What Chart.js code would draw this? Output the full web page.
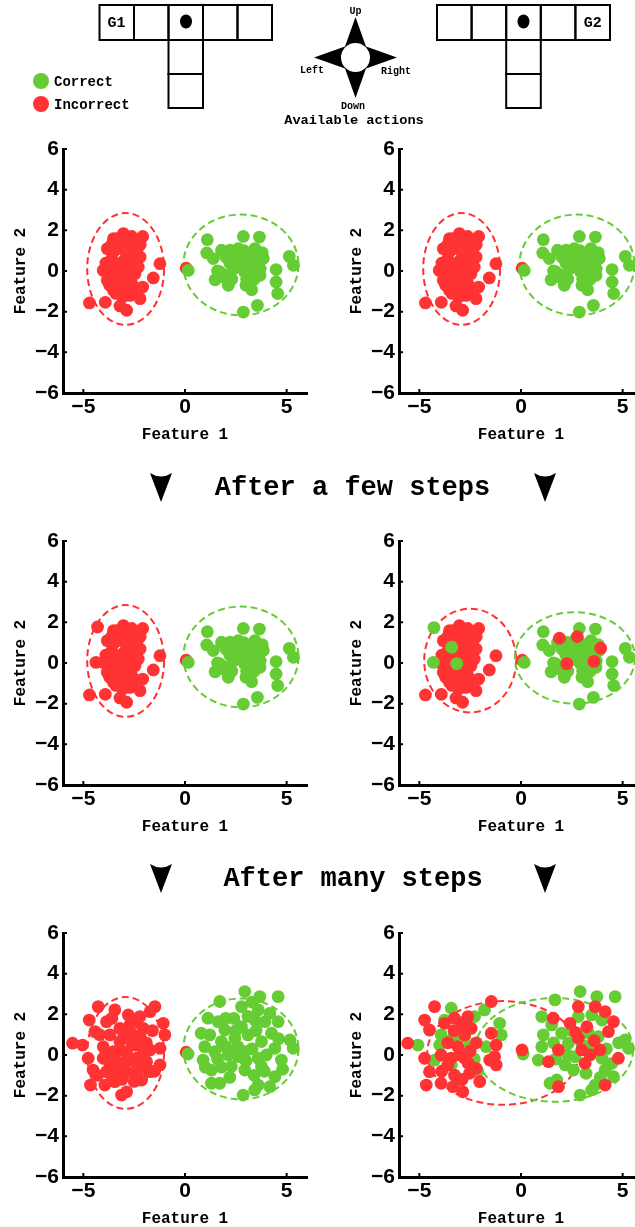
<!DOCTYPE html>
<html>
<head>
<meta charset="utf-8">
<script src="https://cdn.jsdelivr.net/npm/chart.js@4.4.1/dist/chart.umd.min.js"></script>
<style>
html, body { margin: 0; padding: 0; background: #fff; overflow: hidden; }
#page { position: relative; width: 635px; height: 1227px; overflow: hidden; }
#page canvas { position: absolute; width: 330px; height: 320px; }
#page svg { position: absolute; left: 0; top: 0; }
</style>
</head>
<body>
<div id="page">
<canvas id="c1" width="330" height="320" style="left:0px;top:130px"></canvas>
<canvas id="c2" width="330" height="320" style="left:336px;top:130px"></canvas>
<canvas id="c3" width="330" height="320" style="left:0px;top:522px"></canvas>
<canvas id="c4" width="330" height="320" style="left:336px;top:522px"></canvas>
<canvas id="c5" width="330" height="320" style="left:0px;top:914px"></canvas>
<canvas id="c6" width="330" height="320" style="left:336px;top:914px"></canvas>

<svg width="635" height="1227" font-family="Liberation Mono, monospace" font-weight="bold">
  <!-- G1 maze -->
  <g fill="none" stroke="#000" stroke-width="2">
    <rect x="99.5" y="5" width="34.5" height="35"/>
    <rect x="134" y="5" width="34.5" height="35"/>
    <rect x="168.5" y="5" width="34.5" height="35"/>
    <rect x="203" y="5" width="34.5" height="35"/>
    <rect x="237.5" y="5" width="34.5" height="35"/>
    <rect x="168.5" y="40" width="34.5" height="34"/>
    <rect x="168.5" y="74" width="34.5" height="34"/>
    <!-- G2 maze -->
    <rect x="437" y="5" width="34.6" height="35"/>
    <rect x="471.6" y="5" width="34.6" height="35"/>
    <rect x="506.2" y="5" width="34.6" height="35"/>
    <rect x="540.8" y="5" width="34.6" height="35"/>
    <rect x="575.4" y="5" width="34.6" height="35"/>
    <rect x="506.2" y="40" width="34.6" height="34"/>
    <rect x="506.2" y="74" width="34.6" height="34"/>
  </g>
  <ellipse cx="186" cy="21.5" rx="6" ry="7" fill="#000"/>
  <ellipse cx="523.5" cy="21.5" rx="6" ry="7" fill="#000"/>
  <text x="116.5" y="27" font-size="15" text-anchor="middle">G1</text>
  <text x="592.7" y="27" font-size="15" text-anchor="middle">G2</text>

  <!-- legend -->
  <circle cx="41" cy="81" r="8" fill="#66CC33"/>
  <circle cx="41" cy="104" r="8" fill="#FF3333"/>
  <text x="54" y="85.5" font-size="14">Correct</text>
  <text x="54" y="108.5" font-size="14">Incorrect</text>

  <!-- actions -->
  <path d="M355.5,17 L344.5,48 L366.5,48 Z" fill="#000"/>
  <path d="M355.5,98 L344.5,67 L366.5,67 Z" fill="#000"/>
  <path d="M314,57.5 L345,46.5 L345,68.5 Z" fill="#000"/>
  <path d="M397,57.5 L366,46.5 L366,68.5 Z" fill="#000"/>
  <circle cx="355.5" cy="57.5" r="14.5" fill="#fff"/>
  <text x="355.5" y="14" font-size="10" text-anchor="middle">Up</text>
  <text x="312" y="73" font-size="10" text-anchor="middle">Left</text>
  <text x="396" y="73.5" font-size="10" text-anchor="middle">Right</text>
  <text x="353" y="108.5" font-size="10" text-anchor="middle">Down</text>
  <text x="354" y="124" font-size="13.7" text-anchor="middle">Available actions</text>

  <!-- step captions -->
  <path d="M150,473 Q161,480 172,473 L161,502 Z" fill="#000"/>
  <path d="M534,473 Q545,480 556,473 L545,502 Z" fill="#000"/>
  <text x="352.5" y="495" font-size="27" text-anchor="middle">After a few steps</text>
  <path d="M150,864 Q161,871 172,864 L161,893 Z" fill="#000"/>
  <path d="M534,864 Q545,871 556,864 L545,893 Z" fill="#000"/>
  <text x="353" y="886" font-size="27" text-anchor="middle">After many steps</text>
</svg>
</div>

<script>
'use strict';
var RED = '#FF3333';
var GREEN = '#66CC33';

// tick labels
var xTickValues = [-5, 0, 5];
var yTickValues = [-6, -4, -2, 0, 2, 4, 6];

// start: both rows on top are the same points
var startRed = [[-4.70, -1.57], [-3.92, -1.54], [-3.20, -1.72], [-2.87, -1.93], [-3.07, -1.28], [-2.21, -1.36],
  [-2.08, -0.79], [-2.54, -0.95], [-1.56, -0.34], [-1.23, 0.36], [-2.08, 1.70], [-3.03, 1.84], [-2.62, 1.70],
  [-3.52, 1.59], [-3.82, 1.10], [-3.89, 0.39], [-4.02, 0.03], [-3.82, -0.46], [-3.52, -0.95], [-3.20, -0.62],
  [-2.46, -0.13], [-2.30, 1.18], [-2.21, 0.69], [-2.79, 0.52], [-3.36, 0.36], [-2.95, -0.30], [-3.44, 1.02],
  [-3.20, 1.34], [-2.71, 1.34], [-3.52, -0.13], [-2.62, -0.62], [-2.90, 0.90], [-3.00, 0.00], [-3.60, 0.60],
  [-2.50, 0.30], [-3.30, 1.60], [-2.40, 1.50], [-3.70, 0.20], [-3.30, -0.30], [-2.70, -0.30], [-2.30, 0.20],
  [-3.10, -0.90], [-2.70, -1.20], [-3.70, -0.70], [-2.50, 1.00], [-3.00, 0.50], [-3.40, -1.10], [-2.80, 1.60],
  [-2.20, 1.30], [-3.60, 1.30], [-3.10, -0.40], [0.06, 0.14]];
var startGreen = [[0.16, 0.03], [1.10, 1.54], [1.07, 0.89], [1.39, 0.61], [1.80, 1.02], [1.48, -0.43], [2.13, -0.70],
  [2.05, -0.21], [2.38, 0.11], [2.21, 1.02], [2.62, 1.10], [2.87, 1.70], [3.66, 1.67], [3.44, 1.10], [3.85, 0.61],
  [3.36, 0.52], [3.03, -0.38], [3.28, -0.92], [3.69, -0.21], [2.87, -2.02], [3.56, -1.69], [4.48, 0.07],
  [4.48, -0.54], [4.56, -1.11], [5.13, 0.72], [5.33, 0.28], [2.70, 0.52], [3.03, 0.36], [2.46, 0.61],
  [1.72, -0.05], [3.20, 0.03], [2.50, 0.90], [3.10, 0.80], [3.40, -0.40], [1.90, -0.30], [2.30, -0.40],
  [2.60, 0.20], [2.90, 0.00], [3.30, 0.20], [3.60, 0.30], [2.20, 0.40], [2.00, 0.70], [2.90, 1.00], [3.70, 0.10],
  [3.00, -0.70], [1.60, 0.00], [3.80, 0.90]];

// after a few steps
var fewLeftRedExtra = [[-4.30, 1.77], [-4.38, 0.03]];
var fewRightGreenMoved = [[-4.28, 1.74], [-4.31, 0.03], [-3.41, 0.78], [-3.16, -0.03]];
var fewRightRedMoved = [[1.89, 1.22], [2.77, 1.30], [3.92, 0.73], [2.25, -0.03], [3.59, 0.08]];

// after many steps
var manyLeftRed = [[-5.53, 0.58], [-5.04, 0.49], [-4.71, 1.72], [-4.27, 2.38], [-4.76, -0.16], [-4.52, -0.74],
  [-4.65, -1.48], [-4.43, 1.15], [-3.94, -1.48], [-3.45, -1.31], [-3.12, -1.97], [-2.87, -1.81], [-2.13, -1.23],
  [-1.48, 2.38], [-1.72, 2.13], [-1.07, 1.56], [-0.99, 0.99], [-1.23, 0.33], [-1.23, -0.49], [-1.72, 0.25],
  [-3.45, 2.22], [-2.79, 1.97], [-2.22, 1.89], [-3.86, 1.64], [-4.02, 0.41], [-3.69, 0.99], [-3.20, 1.31],
  [-2.55, 0.99], [-2.87, 0.16], [-3.37, -0.33], [-2.38, -0.16], [-3.69, -0.49], [-2.87, -0.82], [-2.22, -0.66],
  [-1.89, -0.33], [-4.02, -0.16], [-3.20, 0.66], [-2.46, 0.49], [-3.53, 0.16], [-3.04, -0.49], [-2.71, 1.48],
  [-2.05, 1.31], [-1.72, -0.82], [-3.61, -0.99], [-2.05, 0.16], [-3.86, -0.82], [-3.00, 1.00], [-2.60, 0.60],
  [-3.30, 0.20], [-2.90, -0.30], [-2.50, -0.30], [-3.10, -1.20], [-2.50, -1.30], [-2.20, 0.90], [-3.60, 1.80],
  [-2.40, 1.60], [-1.60, 1.20], [-1.50, -0.80], [-3.30, -0.70], [-4.20, 1.00], [-4.30, -1.00], [-2.00, -0.20],
  [-3.90, 0.00], [-2.60, -0.90], [-1.90, 0.60], [0.06, 0.14]];
var manyLeftGreen = [[0.15, 0.05], [2.94, 3.12], [3.68, 2.87], [4.58, 2.87], [1.71, 2.63], [2.78, 2.38], [3.60, 2.22],
  [4.17, 2.05], [1.13, 1.81], [1.63, 1.64], [3.43, 1.72], [4.58, 1.64], [2.78, 1.39], [1.22, 0.99], [4.25, 1.07],
  [5.16, 0.74], [5.32, 0.33], [0.97, 0.41], [1.79, 0.66], [2.45, 0.82], [3.10, 0.99], [3.76, 0.66], [4.42, 0.33],
  [0.89, -0.25], [1.46, 0.16], [2.12, 0.00], [2.94, 0.16], [3.60, -0.16], [4.74, -0.25], [2.28, -0.57],
  [2.94, -0.74], [3.76, -0.57], [4.42, -1.07], [1.30, -1.39], [1.71, -1.39], [3.60, -1.48], [4.17, -1.56],
  [2.86, -1.97], [3.43, -1.72], [0.80, 1.07], [1.96, 1.23], [3.93, 1.64], [2.61, -0.08], [1.30, -0.74],
  [2.30, 0.20], [2.60, 0.40], [3.30, 0.30], [3.00, -0.30], [2.00, 0.40], [1.60, -0.20], [1.80, -0.60],
  [3.40, -1.00], [3.90, -0.80], [4.00, 0.00], [4.60, 0.80], [2.40, 1.80], [3.10, 1.90], [2.20, -1.10],
  [4.80, -0.70], [1.00, -0.60], [3.30, 2.60], [2.00, 1.80], [3.50, 1.20], [2.50, 1.20]];
var manyRightRed = [[-5.57, 0.58], [-4.25, 2.38], [-4.74, 1.72], [-4.50, 1.23], [-4.74, -0.16], [-4.50, -0.82],
  [-4.66, -1.48], [-3.93, -1.39], [-3.35, -1.56], [-2.86, -1.81], [-1.46, 2.63], [-3.27, 1.81], [-2.61, 1.89],
  [-1.46, 1.07], [-1.22, 0.49], [-1.30, -0.08], [-1.22, -0.49], [-1.54, -0.25], [-2.20, -0.66], [-2.03, -1.31],
  [-2.53, -0.90], [-3.76, 1.56], [-3.93, 0.00], [-3.60, -0.49], [-3.10, 0.41], [-2.77, 0.99], [-3.27, -0.99],
  [-2.77, -0.16], [-3.43, -0.16], [-2.94, 1.39], [-2.45, 1.31], [-3.00, 0.00], [-2.50, 0.20], [-3.30, 1.20],
  [-2.20, 0.60], [-3.60, 0.60], [-2.60, -0.40], [-3.90, -0.80], [-2.90, -1.20], [-2.70, 1.70],
  [0.05, 0.25], [2.82, 2.38], [3.65, 2.38],
  [4.14, 2.13], [1.59, 1.81], [2.41, 1.56], [3.24, 1.39], [4.55, 1.64], [4.30, 1.15], [2.82, 0.82], [1.84, 0.25],
  [2.99, 0.25], [3.89, 0.25], [4.79, -0.16], [1.35, -0.33], [3.15, -0.41], [1.84, -1.56], [4.14, -1.48], [3.40, 0.00],
  [2.70, 1.10], [3.60, 0.70]];
var manyRightGreen = [[-5.07, 0.49], [-3.43, 2.30], [-1.79, 2.22], [-2.28, 1.89], [-1.05, 1.56], [-0.97, 0.99],
  [-3.93, 0.99], [-4.00, 0.49], [-3.35, 0.82], [-2.77, 0.90], [-1.71, 0.41], [-4.25, -0.25], [-2.12, -0.82],
  [-3.10, -1.48], [-2.53, 0.41], [-3.43, -0.49], [-3.76, 1.72], [-2.30, -0.20], [0.10, 0.05], [1.67, 2.71], [2.91, 3.12],
  [3.73, 2.87], [4.63, 2.87], [1.02, 1.89], [1.51, 1.48], [2.82, 1.89], [3.48, 1.97], [3.98, 1.72], [1.10, 0.99],
  [2.00, 1.07], [3.32, 1.07], [1.02, 0.41], [2.33, 0.58], [3.48, 0.49], [5.12, 0.74], [5.29, 0.33], [0.85, -0.25],
  [2.17, -0.49], [2.66, -0.08], [3.98, -0.16], [4.47, -0.41], [4.55, -1.07], [1.43, -1.39], [1.76, -1.23],
  [3.65, -1.48], [2.91, -1.97], [3.48, -1.72], [2.58, -0.74], [4.14, -0.74], [2.50, 1.20], [3.00, 0.50],
  [3.80, 0.90], [4.20, 0.30], [2.30, 0.00], [1.60, 0.60], [3.20, -0.90], [4.80, 0.60], [3.90, -1.10], [1.70, -0.20]];

// ellipses: [centre x, centre y, radius x, radius y]
var startRedEllipse = [-2.92, 0.1, 1.89, 2.75];
var startGreenEllipse = [2.75, 0.3, 2.83, 2.48];
var fewRedEllipse = [-2.5, 0.12, 2.26, 2.55];
var fewGreenEllipse = [2.65, 0.25, 2.95, 2.25];
var manyRedEllipse = [-0.88, 0.1, 3.73, 2.55];
var manyGreenEllipse = [1.63, 0.25, 3.88, 2.55];

function dots(points, color) {
    return {
        data: points,
        backgroundColor: color,
        borderWidth: 0,
        pointRadius: 6.4,
        pointHoverRadius: 6.4
    };
}

function shapesPlugin(ellipses) {
    return {
        id: 'shapes',
        beforeDatasetsDraw: function (chart) {
            var ctx = chart.ctx;
            var xs = chart.scales.x;
            var ys = chart.scales.y;
            ctx.save();
            ctx.lineWidth = 2;
            ctx.setLineDash([7, 4]);
            for (var i = 0; i < ellipses.length; i++) {
                var e = ellipses[i].shape;
                var cx = xs.getPixelForValue(e[0]);
                var cy = ys.getPixelForValue(e[1]);
                var rx = Math.abs(xs.getPixelForValue(e[0] + e[2]) - cx);
                var ry = Math.abs(ys.getPixelForValue(e[1] + e[3]) - cy);
                ctx.strokeStyle = ellipses[i].color;
                ctx.beginPath();
                ctx.ellipse(cx, cy, rx, ry, 0, 0, Math.PI * 2);
                ctx.stroke();
            }
            ctx.restore();
        },
        afterDraw: function (chart) {
            // little inward tick marks
            var ctx = chart.ctx;
            var area = chart.chartArea;
            var xs = chart.scales.x;
            var ys = chart.scales.y;
            ctx.save();
            ctx.strokeStyle = '#000';
            ctx.lineWidth = 2;
            ctx.beginPath();
            xs.ticks.forEach(function (t) {
                var px = xs.getPixelForValue(t.value);
                ctx.moveTo(px, area.bottom);
                ctx.lineTo(px, area.bottom - 4);
            });
            ys.ticks.forEach(function (t) {
                var py = ys.getPixelForValue(t.value);
                ctx.moveTo(area.left, py);
                ctx.lineTo(area.left + 4, py);
            });
            ctx.stroke();
            ctx.restore();
        }
    };
}

function minusLabel(v) {
    return v < 0 ? '\u2212' + Math.abs(v) : '' + v;
}

function makePanel(id, datasets, ellipses) {
    var tickFont = { family: 'Liberation Sans', size: 21, weight: 'bold' };
    var titleFont = { family: 'Liberation Mono', size: 16, weight: 'bold' };
    new Chart(document.getElementById(id), {
        type: 'scatter',
        data: { datasets: datasets },
        options: {
            responsive: false,
            animation: false,
            layout: { padding: { top: 19, right: 23, left: 0, bottom: 0 } },
            plugins: { legend: { display: false }, tooltip: { enabled: false } },
            scales: {
                x: {
                    type: 'linear', position: 'bottom', min: -6, max: 6,
                    grid: { display: false, drawTicks: false },
                    border: { display: true, color: '#000', width: 3 },
                    afterBuildTicks: function (s) {
                        s.ticks = xTickValues.map(function (v) { return { value: v }; });
                    },
                    afterFit: function (s) { s.height = 57; },
                    ticks: { color: '#000', font: tickFont, padding: 2, callback: minusLabel },
                    title: { display: true, text: 'Feature 1', color: '#000', font: titleFont, padding: { top: 0, bottom: 5 } }
                },
                y: {
                    type: 'linear', position: 'left', min: -6, max: 6,
                    grid: { display: false, drawTicks: false },
                    border: { display: true, color: '#000', width: 3 },
                    afterBuildTicks: function (s) {
                        s.ticks = yTickValues.map(function (v) { return { value: v }; });
                    },
                    afterFit: function (s) { s.width = 63; },
                    ticks: { color: '#000', font: tickFont, padding: 4, callback: minusLabel },
                    title: { display: true, text: 'Feature 2', color: '#000', font: titleFont, padding: { top: 11, bottom: 0 } }
                }
            }
        },
        plugins: [shapesPlugin(ellipses)]
    });
}

var startEllipses = [{ shape: startRedEllipse, color: RED }, { shape: startGreenEllipse, color: GREEN }];

// first dataset is drawn on top
makePanel('c1', [dots(startGreen, GREEN), dots(startRed, RED)], startEllipses);
makePanel('c2', [dots(startGreen, GREEN), dots(startRed, RED)], startEllipses);
makePanel('c3', [dots(startGreen, GREEN), dots(startRed.concat(fewLeftRedExtra), RED)], startEllipses);
makePanel('c4', [dots(fewRightGreenMoved, GREEN), dots(fewRightRedMoved, RED), dots(startGreen, GREEN), dots(startRed, RED)],
    [{ shape: fewRedEllipse, color: RED }, { shape: fewGreenEllipse, color: GREEN }]);
makePanel('c5', [dots(manyLeftGreen, GREEN), dots(manyLeftRed, RED)], startEllipses);
makePanel('c6', [dots(manyRightRed, RED), dots(manyRightGreen, GREEN)],
    [{ shape: manyRedEllipse, color: RED }, { shape: manyGreenEllipse, color: GREEN }]);
</script>
</body>
</html>
